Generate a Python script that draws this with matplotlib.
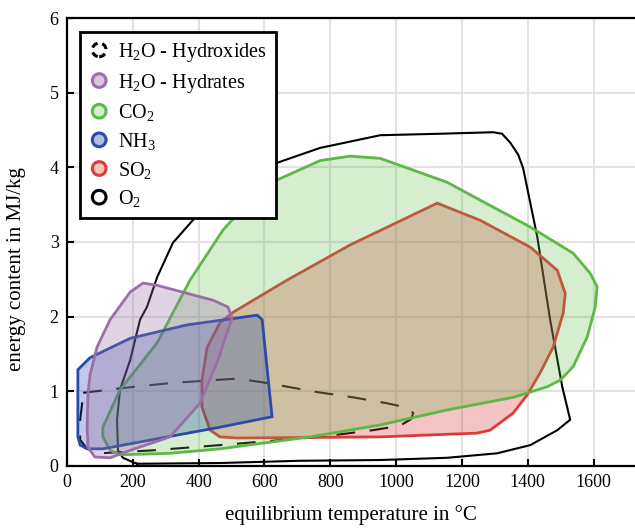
import matplotlib
matplotlib.use('Agg')
import matplotlib.pyplot as plt
import matplotlib.patches as mpatches
from matplotlib.legend_handler import HandlerPatch

plt.rcParams['font.family'] = 'Liberation Serif'
plt.rcParams['mathtext.fontset'] = 'custom'
plt.rcParams['mathtext.rm'] = 'Liberation Serif'
plt.rcParams['mathtext.it'] = 'Liberation Serif:italic'

# contours (temperature in °C, energy in MJ/kg)
o2_t = [213, 465, 708, 952, 1155, 1307, 1408, 1490, 1529, 1505, 1468, 1429, 1408, 1386,
        1371, 1347, 1322, 1295, 1134, 952, 769, 638, 526, 404, 322, 274, 243, 222, 192,
        161, 152, 155, 170, 201]
o2_e = [0.03, 0.04, 0.07, 0.08, 0.11, 0.17, 0.28, 0.48, 0.62, 1.06, 1.96, 3.07, 3.52, 3.99,
        4.17, 4.33, 4.45, 4.47, 4.45, 4.43, 4.26, 4.06, 3.76, 3.40, 2.99, 2.53, 2.13, 1.96, 1.42,
        1.02, 0.62, 0.21, 0.11, 0.05]

hydrox_t = [49, 161, 313, 444, 517, 596, 760, 869, 973, 1034, 1052, 1046, 1012, 930, 769,
            465, 261, 100, 61, 40, 40, 46]
hydrox_e = [0.98, 1.04, 1.11, 1.15, 1.17, 1.12, 0.99, 0.92, 0.84, 0.78, 0.71, 0.63, 0.54,
            0.48, 0.39, 0.28, 0.21, 0.17, 0.23, 0.35, 0.62, 0.84]

so2_t = [1125, 1256, 1408, 1490, 1514, 1508, 1477, 1438, 1398, 1356, 1286, 1246, 952, 517,
         465, 435, 410, 410, 426, 465, 505, 669, 860]
so2_e = [3.52, 3.29, 2.93, 2.62, 2.31, 2.05, 1.59, 1.25, 0.95, 0.71, 0.48, 0.44, 0.39, 0.375,
         0.39, 0.48, 0.79, 1.15, 1.59, 1.92, 2.06, 2.49, 2.96]

co2_t = [109, 161, 274, 374, 474, 556, 638, 769, 860, 952, 1155, 1256, 1408, 1538, 1590,
         1611, 1605, 1581, 1538, 1499, 1459, 1356, 1155, 952, 739, 465, 313, 161, 131, 109]
co2_e = [0.52, 1.02, 1.65, 2.49, 3.16, 3.56, 3.83, 4.09, 4.15, 4.12, 3.80, 3.56, 3.20, 2.85,
         2.58, 2.40, 2.13, 1.73, 1.33, 1.15, 1.06, 0.92, 0.75, 0.55, 0.39, 0.23, 0.17, 0.15,
         0.21, 0.39]

nh3_t = [33, 70, 192, 365, 578, 593, 623, 465, 109, 61, 40, 33]
nh3_e = [1.29, 1.45, 1.71, 1.89, 2.02, 1.96, 0.66, 0.52, 0.23, 0.23, 0.28, 0.39]

hydr_t = [91, 131, 192, 231, 274, 444, 489, 502, 486, 459, 404, 313, 192, 131, 85, 64,
          61, 64, 70]
hydr_e = [1.59, 1.96, 2.33, 2.45, 2.42, 2.22, 2.13, 1.98, 1.78, 1.42, 0.84, 0.39, 0.21, 0.11,
          0.12, 0.25, 0.52, 0.98, 1.22]

labels = ['H$_\\mathrm{2}$O - Hydroxides', 'H$_\\mathrm{2}$O - Hydrates', 'CO$_\\mathrm{2}$',
          'NH$_\\mathrm{3}$', 'SO$_\\mathrm{2}$', 'O$_\\mathrm{2}$']

c_hydr = '#9a6fa8'
c_co2 = '#5cb946'
c_nh3 = '#2b4ba8'
c_so2 = '#dc3b3b'


class HandlerCircle(HandlerPatch):
    def create_artists(self, legend, orig_handle, xdescent, ydescent, width, height,
                       fontsize, trans):
        r = 0.34 * fontsize
        c = mpatches.Circle((width / 2 - xdescent, height / 2 - ydescent), r)
        self.update_prop(c, orig_handle, legend)
        c.set_transform(trans)
        return [c]


fig = plt.figure(figsize=(6.35, 5.28), dpi=100)
ax = fig.add_axes([67 / 635, 62 / 528, 1 - 67 / 635, 448 / 528])

ax.plot(o2_t + o2_t[:1], o2_e + o2_e[:1], color='black', lw=1.5, zorder=2)
ax.plot(hydrox_t + hydrox_t[:1], hydrox_e + hydrox_e[:1], color='black', lw=1.5,
        dashes=(9, 7), zorder=2)

ax.fill(so2_t, so2_e, facecolor=c_so2, alpha=0.3, zorder=3)
ax.fill(so2_t, so2_e, facecolor='none', edgecolor=c_so2, lw=2, zorder=3)
ax.fill(co2_t, co2_e, facecolor=c_co2, alpha=0.25, zorder=4)
ax.fill(co2_t, co2_e, facecolor='none', edgecolor=c_co2, lw=2, zorder=4)
ax.fill(nh3_t, nh3_e, facecolor=c_nh3, alpha=0.3, zorder=5)
ax.fill(nh3_t, nh3_e, facecolor='none', edgecolor=c_nh3, lw=2, zorder=5)
ax.fill(hydr_t, hydr_e, facecolor=c_hydr, alpha=0.3, zorder=6)
ax.fill(hydr_t, hydr_e, facecolor='none', edgecolor=c_hydr, lw=2, zorder=6)

handles = [
    mpatches.Circle((0, 0), 1, facecolor='none', edgecolor='black', lw=2.2, linestyle=(0, (2.2, 1.6))),
    mpatches.Circle((0, 0), 1, facecolor='#d9c8dc', edgecolor=c_hydr, lw=2.2),
    mpatches.Circle((0, 0), 1, facecolor='#d6edd1', edgecolor=c_co2, lw=2.2),
    mpatches.Circle((0, 0), 1, facecolor='#b4bce0', edgecolor=c_nh3, lw=2.2),
    mpatches.Circle((0, 0), 1, facecolor='#f6c6bb', edgecolor=c_so2, lw=2.2),
    mpatches.Circle((0, 0), 1, facecolor='white', edgecolor='black', lw=2.2),
]
leg = ax.legend(handles, labels, handler_map={mpatches.Circle: HandlerCircle()},
                loc='upper left', bbox_to_anchor=(0.023, 0.969), borderaxespad=0,
                fontsize=14.5, fancybox=False, framealpha=1, edgecolor='black',
                handlelength=1.0, handletextpad=0.45, labelspacing=0.38,
                borderpad=0.45)
leg.get_frame().set_linewidth(2)
leg.set_zorder(10)

ax.set_xlim(0, 1726)
ax.set_ylim(0, 6)
ax.set_xticks(range(0, 1601, 200))
ax.set_yticks(range(0, 7))
ax.set_axisbelow(True)
ax.grid(True, color='#e2e2e2', lw=1.5)
ax.spines['right'].set_visible(False)
for s in ['left', 'bottom', 'top']:
    ax.spines[s].set_linewidth(1.6)
ax.tick_params(direction='in', length=5, width=1.5, labelsize=13, top=False, right=False,
               pad=6)
ax.set_xlabel('equilibrium temperature in °C', fontsize=15, labelpad=10)
ax.set_ylabel('energy content in MJ/kg', fontsize=15)
ax.yaxis.set_label_coords(-0.072, 0.44)

fig.savefig('out.png', dpi=100)
